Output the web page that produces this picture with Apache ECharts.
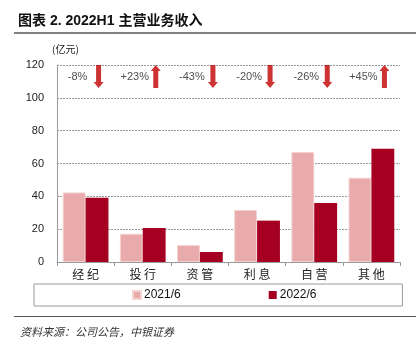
<!DOCTYPE html>
<html>
<head>
<meta charset="utf-8">
<script src="https://cdn.jsdelivr.net/npm/echarts@6/dist/echarts.min.js"></script>
<style>
  html, body { margin: 0; padding: 0; background: #fff; }
  #chart { width: 418px; height: 353px; }
</style>
</head>
<body>
<div id="chart"></div>
<script>
// 主营业务收入 (亿元)
const categories = ["经纪", "投行", "资管", "利息", "自营", "其他"];
const rev2021 = [42.4, 17.2, 10.3, 31.7, 67.0, 51.3];
const rev2022 = [39.2, 20.7, 6.1, 25.2, 35.9, 69.0];
const changeLabels = ["-8%", "+23%", "-43%", "-20%", "-26%", "+45%"];
const seriesNames = ["2021/6", "2022/6"];

// 注释行放在 113 附近
const noteLevel = 113;

const arrowPath = "path://M2.5,0 L7.5,0 L7.5,17 L10,17 L5,23 L0,17 L2.5,17 Z";

const chart = echarts.init(document.getElementById("chart"));

const option = {
  backgroundColor: "#fff",
  animation: false,
  textStyle: { fontFamily: "Liberation Sans, Arial, sans-serif" },
  title: [
    {
      text: "图表 2. 2022H1 主营业务收入",
      left: 13,
      top: 9,
      textStyle: {
        fontFamily: "Liberation Sans, Noto Sans CJK SC, sans-serif",
        fontSize: 14,
        fontWeight: "bold",
        color: "#111",
      },
    },
    {
      text: "资料来源：公司公告，中银证券",
      left: 15,
      top: 321,
      textStyle: {
        fontFamily: "Noto Sans CJK SC, sans-serif",
        fontSize: 11,
        fontStyle: "italic",
        fontWeight: "normal",
        color: "#333",
      },
    },
  ],
  graphic: [
    {
      type: "line",
      shape: { x1: 14, y1: 33, x2: 416, y2: 33 },
      style: { stroke: "#808080", lineWidth: 2 },
    },
    {
      type: "line",
      shape: { x1: 14, y1: 316.5, x2: 416, y2: 316.5 },
      style: { stroke: "#555", lineWidth: 1.2 },
    },
    {
      type: "text",
      left: 52,
      top: 44,
      style: {
        text: "(亿元)",
        fontFamily: "Noto Sans CJK SC, sans-serif",
        fontSize: 10,
        fill: "#222",
      },
    },
  ],
  legend: {
    data: seriesNames,
    left: 34,
    top: 284,
    padding: [5, 86, 5, 98],
    itemGap: 88,
    itemWidth: 8,
    itemHeight: 8,
    icon: "rect",
    borderColor: "#999",
    borderWidth: 1,
    textStyle: { fontSize: 12, color: "#111", padding: [0, 0, 0, -2] },
  },
  grid: {
    left: 57,
    right: 18,
    top: 65,
    bottom: 91,
  },
  xAxis: {
    type: "category",
    data: categories,
    axisLine: { lineStyle: { color: "#999" } },
    axisTick: { show: true, length: 4, lineStyle: { color: "#999" } },
    axisLabel: {
      fontFamily: "Noto Sans CJK SC, sans-serif",
      fontSize: 12,
      color: "#222",
      margin: 6,
      formatter: (v) => v.split("").join(" "),
    },
  },
  yAxis: {
    type: "value",
    min: 0,
    max: 120,
    interval: 20,
    axisLine: { show: true, lineStyle: { color: "#999" } },
    axisTick: { show: false },
    axisLabel: { fontSize: 11, color: "#222", margin: 13 },
    splitLine: { lineStyle: { color: "#999", type: [2, 1], width: 1 } },
  },
  series: [
    {
      name: seriesNames[0],
      type: "bar",
      data: rev2021,
      barGap: "0%",
      barCategoryGap: "20%",
      itemStyle: { color: "#E8AAAA", borderColor: "#F4D2D2", borderWidth: 1 },
    },
    {
      name: seriesNames[1],
      type: "bar",
      data: rev2022,
      itemStyle: { color: "#A50021" },
    },
    {
      type: "scatter",
      data: changeLabels.map((t, i) => ({
        value: [i, noteLevel],
        symbolRotate: t.startsWith("+") ? 180 : 0,
      })),
      symbol: arrowPath,
      symbolSize: [10, 23],
      symbolOffset: [13, 0],
      itemStyle: { color: "#C00000" },
      silent: true,
      z: 5,
    },
    {
      type: "scatter",
      data: changeLabels.map((t, i) => [i, noteLevel]),
      symbolSize: 0,
      silent: true,
      label: {
        show: true,
        position: "inside",
        offset: [-8, 0],
        formatter: (p) => changeLabels[p.dataIndex],
        fontSize: 11,
        color: "#222",
      },
      z: 5,
    },
  ],
};

chart.setOption(option);
</script>
</body>
</html>
